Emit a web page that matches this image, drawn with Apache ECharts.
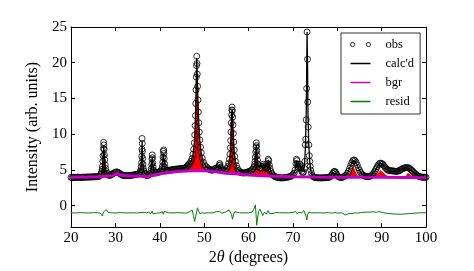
<!DOCTYPE html>
<html>
<head>
<meta charset="utf-8">
<script src="https://cdn.jsdelivr.net/npm/echarts@6/dist/echarts.min.js"></script>
<style>html,body{margin:0;padding:0;background:#fff}#chart{width:474px;height:271px}</style>
</head>
<body>
<div id="chart"></div>
<script>
// ---- data ----
const xTicks = [20, 30, 40, 50, 60, 70, 80, 90, 100];
const yTicks = [0, 5, 10, 15, 20, 25];

const obs = [[20,3.95],[20.25,3.9],[20.5,3.98],[20.75,3.92],[21,3.96],[21.25,3.93],[21.5,4.0],[21.75,3.94],[22,3.97],[22.25,3.95],[22.5,4.01],[22.75,3.96],[23,3.99],[23.25,3.95],[23.5,4.02],[23.75,3.98],[24,4.0],[24.25,4.03],[24.5,3.99],[24.75,4.04],[25,4.02],[25.25,4.06],[25.5,4.03],[25.75,4.07],[26,4.05],[26.2,4.09],[26.4,4.14],[26.6,4.3],[26.8,4.5],[26.93,4.75],[27.03,5.1],[27.1,5.5],[27.17,6.2],[27.23,7.0],[27.29,8.0],[27.35,8.85],[27.41,8.5],[27.47,7.9],[27.54,7.1],[27.61,6.4],[27.7,5.7],[27.81,5.2],[27.95,4.8],[28.13,4.5],[28.35,4.32],[28.6,4.22],[28.85,4.27],[29.05,4.32],[29.25,4.4],[29.5,4.5],[29.75,4.6],[30,4.68],[30.25,4.72],[30.5,4.7],[30.75,4.6],[31,4.5],[31.25,4.4],[31.5,4.3],[31.75,4.25],[32,4.22],[32.25,4.2],[32.5,4.22],[32.75,4.2],[33,4.23],[33.25,4.22],[33.5,4.25],[33.75,4.27],[34,4.3],[34.25,4.3],[34.5,4.35],[34.75,4.38],[35,4.42],[35.25,4.5],[35.5,4.62],[35.65,4.8],[35.75,5.05],[35.83,5.45],[35.89,6.0],[35.94,6.9],[35.98,7.9],[36.02,9.4],[36.06,8.7],[36.1,7.6],[36.15,6.6],[36.21,5.8],[36.3,5.2],[36.42,4.85],[36.6,4.55],[36.8,4.35],[37,4.22],[37.25,4.22],[37.5,4.3],[37.75,4.45],[38,4.8],[38.1,5.2],[38.18,5.8],[38.25,6.5],[38.3,7.1],[38.36,6.7],[38.42,6.0],[38.5,5.4],[38.62,4.95],[38.8,4.7],[39,4.6],[39.25,4.6],[39.5,4.65],[39.75,4.7],[40,4.75],[40.25,4.9],[40.5,5.15],[40.6,5.5],[40.68,6.1],[40.75,6.8],[40.82,7.6],[40.87,7.8],[40.93,7.3],[41,6.6],[41.08,5.9],[41.2,5.35],[41.4,5.05],[41.6,4.95],[41.8,4.95],[42,4.95],[42.25,4.97],[42.5,5.0],[42.75,5.02],[43,5.05],[43.25,5.07],[43.5,5.1],[43.75,5.12],[44,5.13],[44.25,5.14],[44.5,5.16],[44.75,5.18],[45,5.2],[45.25,5.22],[45.5,5.26],[45.75,5.3],[46,5.38],[46.15,5.5],[46.33,5.65],[46.53,5.78],[46.73,5.9],[47.03,6.2],[47.28,6.6],[47.48,7.2],[47.65,7.9],[47.78,8.8],[47.88,9.9],[47.97,11.2],[48.05,12.6],[48.12,14.3],[48.18,16.2],[48.23,18.0],[48.28,19.6],[48.33,20.9],[48.39,19.9],[48.46,18.4],[48.53,16.7],[48.61,14.8],[48.7,13.1],[48.8,11.6],[48.91,10.3],[49.03,9.2],[49.18,8.2],[49.35,7.4],[49.58,6.65],[49.83,6.1],[50.13,5.7],[50.43,5.45],[50.73,5.3],[51,5.15],[51.25,5.05],[51.5,5.0],[51.75,4.97],[52,4.98],[52.25,5.05],[52.5,5.2],[52.75,5.3],[53,5.2],[53.2,5.3],[53.4,5.6],[53.5,5.9],[53.6,5.7],[53.75,5.3],[54,5.0],[54.25,4.9],[54.5,4.88],[54.8,5.0],[55.1,5.2],[55.35,5.5],[55.55,5.95],[55.7,6.5],[55.82,7.2],[55.92,8.1],[56,9.1],[56.07,10.3],[56.14,11.6],[56.2,12.7],[56.25,13.4],[56.3,13.8],[56.36,13.3],[56.43,12.4],[56.5,11.3],[56.58,10.1],[56.67,8.9],[56.78,7.8],[56.9,6.9],[57.05,6.2],[57.25,5.6],[57.5,5.2],[57.8,4.9],[58,4.75],[58.25,4.65],[58.5,4.6],[58.75,4.57],[59,4.58],[59.25,4.6],[59.5,4.65],[59.75,4.7],[60,4.75],[60.25,4.8],[60.5,4.9],[60.75,5.0],[61,5.15],[61.2,5.4],[61.35,5.75],[61.47,6.2],[61.56,6.8],[61.63,7.5],[61.69,8.2],[61.75,8.8],[61.81,8.4],[61.87,7.7],[61.94,7.0],[62.02,6.35],[62.12,5.85],[62.25,5.5],[62.5,5.3],[62.75,5.2],[63,5.3],[63.2,5.5],[63.35,5.8],[63.5,5.6],[63.75,5.3],[64,5.2],[64.2,5.4],[64.35,5.9],[64.45,6.5],[64.55,6.3],[64.7,5.7],[64.85,5.2],[65,4.8],[65.25,4.5],[65.5,4.3],[65.75,4.15],[66,4.05],[66.25,4.0],[66.5,3.95],[66.75,3.92],[67,3.9],[67.25,3.88],[67.5,3.9],[67.75,3.88],[68,3.9],[68.25,3.92],[68.5,3.95],[68.75,3.98],[69,4.0],[69.25,4.05],[69.5,4.1],[69.75,4.2],[70,4.35],[70.25,4.55],[70.5,5.0],[70.7,5.9],[70.8,6.5],[70.9,6.3],[71,5.8],[71.15,5.4],[71.3,5.3],[71.45,5.5],[71.6,5.8],[71.7,5.6],[71.85,5.1],[72,4.8],[72.2,4.6],[72.4,4.7],[72.55,5.2],[72.7,6.2],[72.8,8.5],[72.9,9.3],[73,12.0],[73.1,16.4],[73.2,24.3],[73.3,20.5],[73.35,14.5],[73.45,11.0],[73.6,8.5],[73.7,7.0],[73.8,6.2],[73.9,5.5],[74,5.0],[74.2,4.5],[74.4,4.2],[74.6,4.05],[74.8,3.98],[75,3.95],[75.25,3.92],[75.5,3.9],[75.75,3.88],[76,3.9],[76.25,3.87],[76.5,3.9],[76.75,3.88],[77,3.9],[77.25,3.92],[77.5,3.9],[77.75,3.93],[78,3.95],[78.25,4.0],[78.5,4.1],[78.75,4.3],[79,4.55],[79.25,4.75],[79.4,4.8],[79.6,4.7],[79.8,4.45],[80,4.2],[80.25,4.05],[80.5,3.98],[80.75,3.95],[81,3.95],[81.25,3.98],[81.5,4.05],[81.75,4.15],[82,4.3],[82.25,4.5],[82.5,4.8],[82.75,5.2],[83,5.6],[83.25,6.0],[83.5,6.3],[83.75,6.4],[84,6.3],[84.25,6.05],[84.5,5.7],[84.75,5.3],[85,4.95],[85.25,4.65],[85.5,4.45],[85.75,4.3],[86,4.2],[86.25,4.12],[86.5,4.08],[86.75,4.06],[87,4.05],[87.25,4.08],[87.5,4.15],[87.75,4.25],[88,4.4],[88.25,4.6],[88.5,4.85],[88.75,5.15],[89,5.45],[89.25,5.7],[89.5,5.9],[89.75,5.95],[90,5.9],[90.25,5.8],[90.5,5.6],[90.75,5.4],[91,5.2],[91.25,5.05],[91.5,4.95],[91.75,4.9],[92,4.9],[92.25,4.88],[92.5,4.85],[92.75,4.85],[93,4.82],[93.25,4.8],[93.5,4.8],[93.75,4.85],[94,4.9],[94.25,5.0],[94.5,5.1],[94.75,5.2],[95,5.25],[95.25,5.3],[95.5,5.32],[95.75,5.32],[96,5.3],[96.25,5.25],[96.5,5.1],[96.75,4.95],[97,4.8],[97.25,4.65],[97.5,4.5],[97.75,4.35],[98,4.25],[98.25,4.15],[98.5,4.08],[98.75,4.02],[99,4.0],[99.25,3.98],[99.5,3.98],[99.75,3.97],[100,3.97]];

const calc = [[20,3.95],[21,3.96],[22,3.97],[23,3.98],[24,4.01],[25,4.04],[26,4.07],[26.5,4.14],[26.8,4.45],[27.03,5.0],[27.17,6.1],[27.29,7.7],[27.35,8.35],[27.41,8.1],[27.54,6.9],[27.7,5.6],[27.95,4.75],[28.35,4.3],[28.6,4.22],[29,4.3],[29.5,4.5],[30,4.66],[30.3,4.7],[30.7,4.62],[31.2,4.42],[31.7,4.27],[32.5,4.21],[33.5,4.25],[34.5,4.35],[35.2,4.48],[35.6,4.75],[35.8,5.3],[35.92,6.6],[36.02,9.0],[36.1,7.4],[36.2,5.8],[36.4,4.9],[36.8,4.35],[37.4,4.27],[37.9,4.65],[38.1,5.2],[38.25,6.5],[38.32,6.8],[38.42,5.9],[38.6,5.0],[38.8,4.7],[39.3,4.6],[40,4.75],[40.45,5.1],[40.65,5.9],[40.8,7.3],[40.87,7.55],[40.95,7.1],[41.1,5.8],[41.3,5.15],[41.6,4.95],[42,4.95],[43,5.05],[44,5.13],[45,5.2],[45.5,5.26],[46,5.4],[46.5,5.72],[47.03,6.15],[47.48,7.1],[47.78,8.7],[47.97,11.0],[48.12,14.1],[48.23,17.7],[48.33,20.7],[48.46,18.2],[48.61,14.6],[48.8,11.5],[49.03,9.1],[49.35,7.3],[49.83,6.05],[50.43,5.45],[51,5.15],[52,4.98],[52.6,5.25],[53,5.2],[53.3,5.5],[53.5,5.8],[53.7,5.4],[54,5.0],[54.5,4.88],[54.8,5.0],[55.1,5.2],[55.35,5.45],[55.55,5.9],[55.7,6.45],[55.82,7.1],[55.92,8.0],[56,9.0],[56.07,10.2],[56.14,11.5],[56.22,12.8],[56.3,13.55],[56.36,13.1],[56.43,12.2],[56.5,11.1],[56.58,9.9],[56.67,8.7],[56.78,7.7],[56.9,6.85],[57.05,6.15],[57.25,5.55],[57.5,5.15],[57.8,4.88],[58.5,4.6],[59.5,4.65],[60.5,4.9],[61,5.15],[61.35,5.7],[61.56,6.7],[61.69,8.0],[61.75,8.45],[61.81,8.1],[61.94,6.9],[62.12,5.8],[62.4,5.35],[62.75,5.2],[63.35,5.75],[63.75,5.3],[64,5.2],[64.3,5.7],[64.45,6.4],[64.6,6.1],[64.85,5.2],[65.25,4.5],[65.75,4.15],[66.5,3.95],[67.5,3.89],[68.5,3.95],[69.5,4.1],[70.2,4.5],[70.5,5.0],[70.8,6.3],[71,5.8],[71.3,5.3],[71.6,5.75],[72,4.8],[72.3,4.65],[72.6,5.4],[72.8,7.8],[73,12.5],[73.1,18.0],[73.2,24.3],[73.3,20.0],[73.4,13.0],[73.6,8.3],[73.8,6.2],[74,5.0],[74.4,4.2],[75,3.95],[76,3.89],[77,3.9],[78,3.95],[78.5,4.1],[79,4.55],[79.4,4.78],[79.8,4.45],[80.25,4.05],[81,3.95],[81.5,4.05],[82,4.3],[82.5,4.8],[83,5.6],[83.5,6.25],[83.75,6.35],[84,6.25],[84.5,5.7],[85,4.95],[85.5,4.45],[86,4.2],[87,4.05],[87.5,4.15],[88,4.4],[88.5,4.85],[89,5.45],[89.5,5.88],[89.75,5.93],[90,5.88],[90.5,5.6],[91,5.2],[91.5,4.95],[92,4.88],[93,4.82],[93.5,4.8],[94,4.9],[94.5,5.1],[95,5.25],[95.5,5.3],[96,5.28],[96.5,5.1],[97,4.8],[97.5,4.5],[98,4.25],[98.5,4.08],[99,4.0],[100,3.97]];

const bgr = [[20,4.0],[23,4.02],[26,4.06],[28,4.1],[29.3,4.2],[30.3,4.5],[31.3,4.25],[33,4.15],[35,4.15],[37,4.05],[39,4.3],[41,4.55],[43,4.7],[45,4.82],[47,4.9],[49,4.92],[51,4.85],[53,4.7],[55,4.55],[57,4.45],[60,4.3],[63,4.2],[66,4.1],[70,4.05],[75,4.0],[80,3.98],[85,3.98],[90,3.96],[95,3.94],[100,3.92]];

const resid = [[20,-1.0],[21,-1.02],[22,-0.98],[23,-1.0],[24,-1.02],[25,-0.98],[26,-1.0],[26.6,-1.05],[26.9,-1.3],[27.05,-1.45],[27.2,-1.2],[27.35,-0.9],[27.5,-1.1],[27.7,-0.8],[27.9,-0.55],[28.1,-0.7],[28.4,-0.95],[29,-1.0],[30,-1.02],[31,-0.98],[32,-1.0],[33,-1.02],[34,-1.0],[35,-1.03],[35.8,-0.95],[36,-0.7],[36.2,-1.1],[36.5,-0.95],[37,-1.0],[37.5,-0.92],[38,-1.1],[38.3,-0.75],[38.5,-1.15],[38.8,-0.9],[39.3,-1.05],[40,-1.0],[40.6,-0.85],[40.8,-1.2],[41,-0.8],[41.3,-1.05],[42,-1.0],[43,-1.02],[44,-0.98],[45,-1.0],[46,-1.05],[46.6,-0.9],[47,-0.75],[47.3,-0.6],[47.6,-1.4],[47.85,-2.2],[48.1,-1.5],[48.3,-0.9],[48.5,-0.3],[48.7,-0.7],[49,-1.1],[49.5,-1.0],[50,-1.05],[51,-1.0],[52,-1.02],[52.7,-0.85],[53.1,-1.1],[53.5,-0.8],[54,-1.05],[54.8,-0.9],[55.2,-1.05],[55.6,-0.6],[55.9,-0.4],[56.15,-1.2],[56.4,-1.9],[56.6,-1.3],[56.9,-0.85],[57.3,-1.0],[58,-1.0],[59,-1.02],[60,-1.0],[60.8,-0.9],[61.2,-0.5],[61.55,0.1],[61.7,-1.2],[61.85,-2.75],[62,-1.9],[62.3,-0.8],[62.6,-0.5],[62.9,-0.9],[63.2,-1.4],[63.6,-0.9],[64,-1.2],[64.4,-0.7],[64.7,-1.1],[65.1,-0.9],[65.6,-1.1],[66.2,-0.95],[67,-1.0],[68,-1.0],[69,-1.02],[70,-0.95],[70.6,-0.8],[70.9,-1.1],[71.4,-0.95],[72,-1.0],[72.5,-0.7],[72.8,-0.95],[73,-1.5],[73.15,-2.0],[73.3,-1.3],[73.6,-0.9],[74.2,-1.0],[75,-1.0],[76,-1.0],[77,-1.02],[78,-0.98],[79,-1.05],[79.5,-0.95],[80,-1.05],[81,-1.0],[81.8,-1.3],[82.2,-1.4],[82.6,-1.1],[83,-0.95],[83.5,-1.1],[84,-1.0],[84.6,-1.05],[85.5,-0.95],[86.5,-0.9],[87.5,-0.9],[88.3,-0.85],[88.8,-0.95],[89.3,-0.8],[89.8,-0.9],[90.5,-1.0],[91.5,-1.1],[92.5,-1.15],[93.5,-1.18],[94.5,-1.2],[95.5,-1.15],[96.5,-1.1],[97.5,-1.05],[98.5,-1.0],[99.5,-1.0],[100,-1.0]];

// main-phase contribution (upper edge of the red fill), one list per peak group
const phasePeak27 = [[26.6,4.1],[26.8,4.3],[27.03,4.85],[27.17,5.95],[27.29,7.55],[27.35,8.2],[27.41,7.95],[27.54,6.75],[27.7,5.45],[27.95,4.6],[28.35,4.15]];
const phasePeak48 = [[46.0,4.95],[46.5,5.35],[47.03,5.8],[47.48,6.75],[47.78,8.35],[47.97,10.65],[48.12,13.75],[48.23,17.35],[48.33,20.35],[48.46,17.85],[48.61,14.25],[48.8,11.15],[49.03,8.75],[49.35,6.95],[49.83,5.7],[50.43,5.1],[51.0,4.88]];
const phasePeak56 = [[54.9,4.55],[55.1,4.8],[55.35,5.1],[55.55,5.55],[55.7,6.1],[55.82,6.75],[55.92,7.65],[56.0,8.65],[56.07,9.85],[56.14,11.15],[56.22,12.45],[56.3,13.2],[56.36,12.75],[56.43,11.85],[56.5,10.75],[56.58,9.55],[56.67,8.35],[56.78,7.35],[56.9,6.5],[57.05,5.8],[57.25,5.2],[57.5,4.8],[57.8,4.5]];
const phasePeak62 = [[61.0,4.45],[61.35,5.1],[61.56,6.2],[61.69,7.6],[61.75,8.1],[61.81,7.7],[61.94,6.5],[62.12,5.4],[62.4,4.95],[62.8,4.85],[63.1,5.1],[63.35,5.5],[63.6,5.15],[64.0,4.95],[64.3,5.35],[64.45,5.95],[64.6,5.6],[64.8,4.9],[65.1,4.5],[65.5,4.2]];
const phasePeak84 = [[82.3,4.0],[82.8,4.4],[83.2,5.0],[83.5,5.7],[83.65,5.85],[83.8,5.5],[84.1,4.8],[84.5,4.3],[85.0,4.0]];
const phasePeak90 = [[88.3,4.0],[88.8,4.3],[89.4,4.7],[89.75,5.0],[89.9,5.1],[90.1,4.9],[90.6,4.5],[91.2,4.2],[91.8,4.0]];
const phasePeak96 = [[95.0,3.95],[95.5,4.2],[95.9,4.6],[96.1,4.75],[96.3,4.55],[96.8,4.2],[97.4,3.95]];
const phaseSegments = [phasePeak27, phasePeak48, phasePeak56, phasePeak62, phasePeak84, phasePeak90, phasePeak96];

// ---- chart ----
const FONT = 'Liberation Serif';
const C_CALC = '#000000', C_BGR = '#c400c4', C_RESID = '#008000';
function bgrNear(x) {
  let best = bgr[0];
  for (const p of bgr) if (Math.abs(p[0] - x) < Math.abs(best[0] - x)) best = p;
  return best[1];
}
const redSeries = phaseSegments.map(seg => ({
  type: 'line', data: seg, symbol: 'none', silent: true, z: 2,
  lineStyle: { width: 0 },
  areaStyle: { color: '#ff0000', opacity: 1, origin: bgrNear((seg[0][0] + seg[seg.length - 1][0]) / 2) - 0.05 }
}));

const axisCommon = {
  type: 'value',
  axisLine: { show: true, onZero: false, lineStyle: { color: '#000', width: 1 } },
  axisTick: { show: true, inside: true, length: 4, lineStyle: { color: '#000', width: 1 } },
  splitLine: { show: false }
};
// legend glyph: a 20x1.5 bar centred in a 20x5 box
const LINE_ICON = 'path://M0,0h0.01M0,1.75h20v1.5h-20zM0,5h0.01';
const CIRCLES_ICON = 'path://M0,2.5a2.5,2.5 0 1,0 5,0a2.5,2.5 0 1,0 -5,0M19,2.5a2.5,2.5 0 1,0 5,0a2.5,2.5 0 1,0 -5,0';

const chart = echarts.init(document.getElementById('chart'), null, { renderer: 'canvas' });
chart.setOption({
  animation: false,
  backgroundColor: '#fff',
  grid: { left: 71, right: 48, top: 27, bottom: 41 },
  xAxis: [
    Object.assign({}, axisCommon, {
      min: 20, max: 100, interval: 10,
      axisLabel: { fontFamily: FONT, fontSize: 15, color: '#000', margin: 3 },
      name: '2{i|θ} (degrees)', nameLocation: 'middle', nameGap: 20,
      nameTextStyle: { fontFamily: FONT, fontSize: 16, color: '#000',
        rich: { i: { fontFamily: FONT, fontSize: 16, fontStyle: 'italic', color: '#000' } } }
    }),
    Object.assign({}, axisCommon, { position: 'top', min: 20, max: 100, interval: 10, axisLabel: { show: false } })
  ],
  yAxis: [
    Object.assign({}, axisCommon, {
      min: -3, max: 25,
      axisLabel: { customValues: yTicks, fontFamily: FONT, fontSize: 15, color: '#000', margin: 4 },
      axisTick: { show: true, inside: true, length: 4, customValues: yTicks, lineStyle: { color: '#000', width: 1 } },
      name: 'Intensity (arb. units)', nameLocation: 'middle', nameGap: 16,
      nameTextStyle: { fontFamily: FONT, fontSize: 16, color: '#000' }
    }),
    Object.assign({}, axisCommon, {
      position: 'right', min: -3, max: 25,
      axisLabel: { show: false },
      axisTick: { show: true, inside: true, length: 4, customValues: yTicks, lineStyle: { color: '#000', width: 1 } }
    })
  ],
  legend: {
    orient: 'vertical', left: 341, top: 33,
    padding: [5, 6, 6, 9], itemGap: 6, itemWidth: 20, itemHeight: 5,
    borderColor: '#333', borderWidth: 1, backgroundColor: '#fff',
    selectedMode: false,
    textStyle: { fontFamily: FONT, fontSize: 12.5, color: '#000', padding: [0, 0, 0, 10] },
    data: [
      { name: 'obs', icon: CIRCLES_ICON, itemStyle: { color: 'rgba(0,0,0,0)', borderColor: '#000', borderWidth: 1 } },
      { name: "calc'd", icon: LINE_ICON, itemStyle: { color: C_CALC, borderWidth: 0 } },
      { name: 'bgr', icon: LINE_ICON, itemStyle: { color: C_BGR, borderWidth: 0 } },
      { name: 'resid', icon: LINE_ICON, itemStyle: { color: C_RESID, borderWidth: 0 } }
    ]
  },
  series: [
    ...redSeries,
    { name: 'obs', type: 'scatter', data: obs, symbol: 'circle', symbolSize: 6, z: 3, silent: true,
      itemStyle: { color: 'rgba(0,0,0,0)', borderColor: '#000', borderWidth: 1 } },
    { name: "calc'd", type: 'line', data: calc, symbol: 'none', z: 4, silent: true,
      lineStyle: { color: C_CALC, width: 1.3 }, itemStyle: { color: C_CALC } },
    { name: 'bgr', type: 'line', data: bgr, symbol: 'none', z: 5, silent: true,
      lineStyle: { color: C_BGR, width: 3 }, itemStyle: { color: C_BGR } },
    { name: 'resid', type: 'line', data: resid, symbol: 'none', z: 4, silent: true,
      lineStyle: { color: C_RESID, width: 1 }, itemStyle: { color: C_RESID } }
  ]
});
</script>
</body>
</html>
